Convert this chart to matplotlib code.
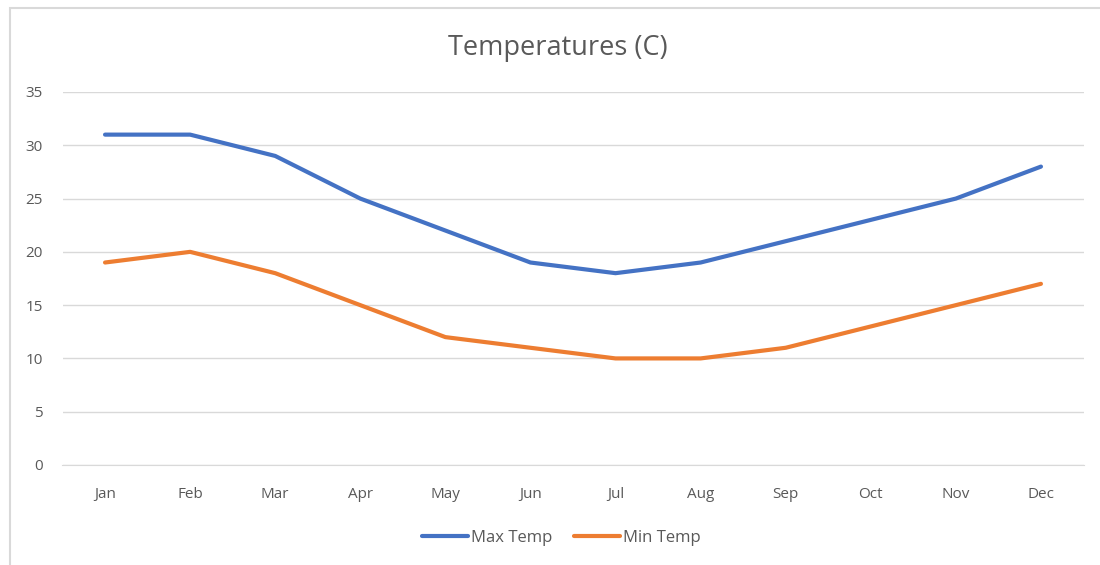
import matplotlib
matplotlib.use("Agg")
import matplotlib.pyplot as plt
from matplotlib.patches import Rectangle

months = ["Jan", "Feb", "Mar", "Apr", "May", "Jun", "Jul", "Aug", "Sep", "Oct", "Nov", "Dec"]
max_temp = [31, 31, 29, 25, 22, 19, 18, 19, 21, 23, 25, 28]
min_temp = [19, 20, 18, 15, 12, 11, 10, 10, 11, 13, 15, 17]

plt.rcParams['font.family'] = ['Open Sans', 'DejaVu Sans']

W, H = 1100, 565
fig = plt.figure(figsize=(W / 100, H / 100), dpi=100)
ax = fig.add_axes([62.5 / W, (H - 465) / H, (1083.5 - 62.5) / W, (465 - 92) / H])

x = range(len(months))
ax.plot(x, max_temp, color="#4472C4", lw=3, label="Max Temp", solid_capstyle="round")
ax.plot(x, min_temp, color="#ED7D31", lw=3, label="Min Temp", solid_capstyle="round")

ax.set_xlim(-0.5, len(months) - 0.5)
ax.set_ylim(0, 35)
ax.set_yticks(range(0, 36, 5))
ax.set_xticks(list(x))
ax.set_xticklabels(months)
ax.grid(axis="y", color="#d9d9d9", lw=1)
ax.set_axisbelow(True)
for s in ax.spines.values():
    s.set_visible(False)
ax.spines["bottom"].set_visible(True)
ax.spines["bottom"].set_color("#d9d9d9")
ax.tick_params(length=0, colors="#595959", labelsize=11)
ax.tick_params(axis="y", pad=14)
ax.tick_params(axis="x", pad=16)

fig.text(558 / W, (H - 48) / H, "Temperatures (C)", ha="center", va="center",
         fontsize=19.5, color="#595959")

fig.legend(loc="center", bbox_to_anchor=(561 / W, (H - 538) / H), ncol=2, frameon=False,
           fontsize=12, labelcolor="#595959", handlelength=2.8, handletextpad=0.15,
           columnspacing=1.3)

fig.patches.append(Rectangle((10 / W, -0.1), 1.2, (H - 8) / H + 0.1, transform=fig.transFigure,
                             fill=False, edgecolor="#d9d9d9", lw=1.5))

fig.savefig("out.png", dpi=100)
